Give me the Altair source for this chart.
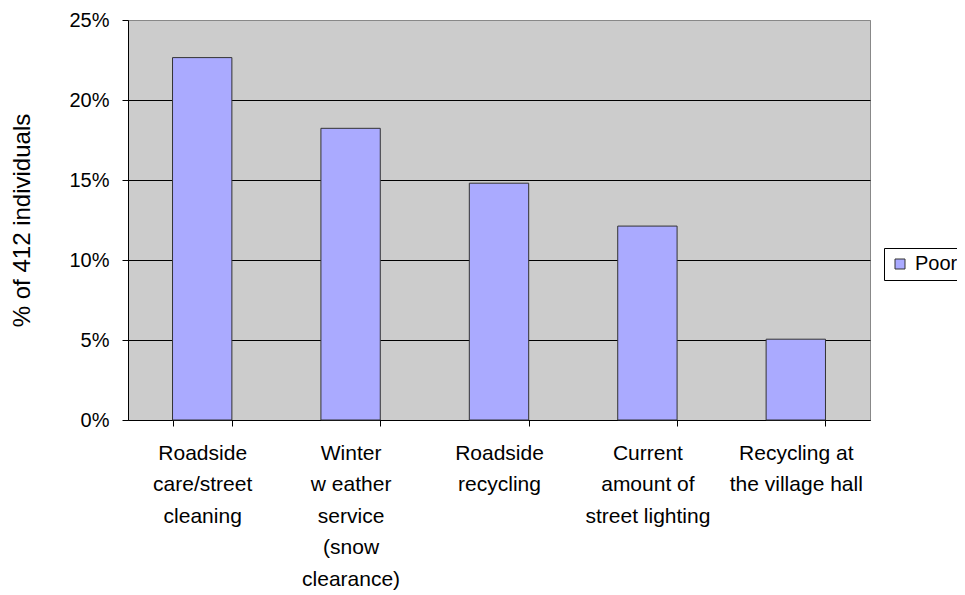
import altair as alt
import pandas as pd

categories = [
    "Roadside\ncare/street\ncleaning",
    "Winter\nw eather\nservice\n(snow\nclearance)",
    "Roadside\nrecycling",
    "Current\namount of\nstreet lighting",
    "Recycling at\nthe village hall",
]
poor = [22.65, 18.23, 14.8, 12.12, 5.05]
series = ["Poor"] * len(categories)
y_ticks = [0, 5, 10, 15, 20, 25]

df = pd.DataFrame({"category": categories, "value": poor, "series": series})

FONT = "Liberation Sans"

chart = alt.Chart(df).mark_bar(
    stroke="#333333", strokeWidth=1
).encode(
    x=alt.X(
        "category:N",
        sort=None,
        title=None,
        scale=alt.Scale(paddingInner=0.6, paddingOuter=0.3),
        axis=alt.Axis(
            labelAngle=0,
            labelExpr="split(datum.label, '\\n')",
            labelFont=FONT,
            labelFontSize=21,
            labelColor="black",
            labelLineHeight=31.5,
            labelPadding=16,
            labelBaseline="top",
            tickBand="extent",
            tickSize=6,
            tickColor="black",
            domainColor="black",
            grid=False,
        ),
    ),
    y=alt.Y(
        "value:Q",
        scale=alt.Scale(domain=[0, 25], nice=False),
        axis=alt.Axis(
            values=y_ticks,
            labelExpr="datum.value + '%'",
            title="% of 412 individuals",
            titleFont=FONT,
            titleFontSize=24,
            titleFontWeight="normal",
            titleColor="black",
            titleAngle=-90,
            titleBaseline="middle",
            titleAlign="center",
            titleX=-106,
            titleY=200,
            labelFont=FONT,
            labelFontSize=20,
            labelColor="black",
            labelPadding=13,
            tickSize=6,
            tickColor="black",
            domainColor="black",
            grid=True,
            gridColor={"condition": {"test": "datum.value === 25", "value": "#888888"}, "value": "black"},
            gridWidth=1,
        ),
    ),
    color=alt.Color(
        "series:N",
        scale=alt.Scale(range=["#AAAAFF"]),
        legend=alt.Legend(
            title=None,
            orient="none",
            legendX=756,
            legendY=228,
            symbolType="square",
            symbolSize=100,
            symbolStrokeColor="#333333",
            symbolStrokeWidth=1,
            labelFont=FONT,
            labelFontSize=20,
            labelColor="black",
            labelOffset=5,
            padding=6,
            strokeColor="black",
            fillColor="white",
        ),
    ),
).properties(
    width=742,
    height=400,
    autosize=alt.AutoSizeParams(type="none"),
    padding={"left": 120, "top": 12, "right": 87, "bottom": 175},
    background="white",
).configure_view(
    fill="#CCCCCC",
    stroke="#888888",
    strokeWidth=1,
)

chart.save("out.html", embed_options={"renderer": "svg", "actions": False})
